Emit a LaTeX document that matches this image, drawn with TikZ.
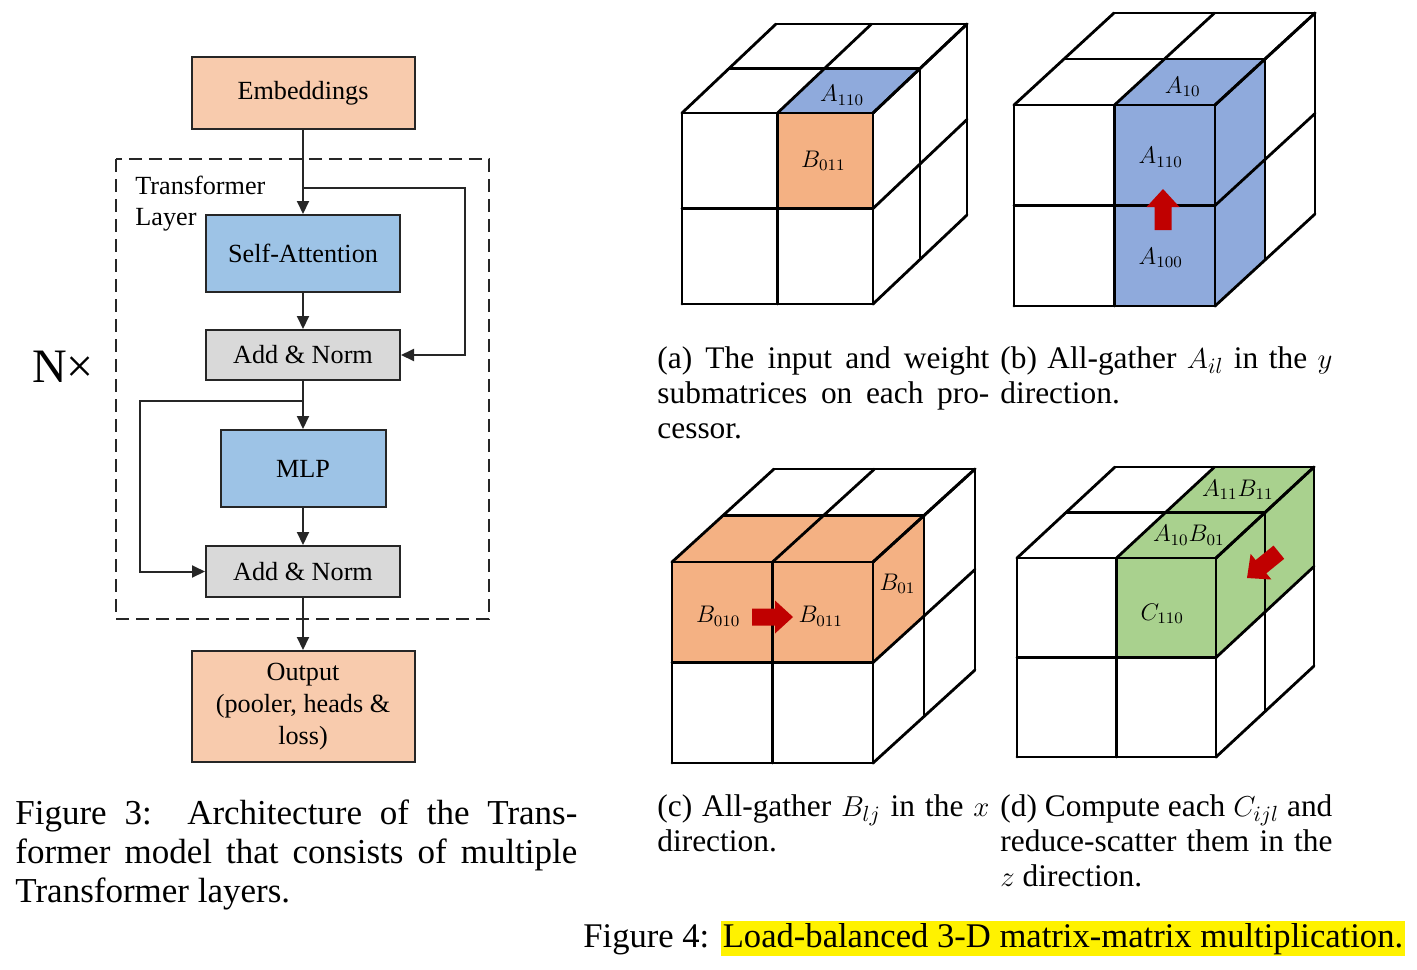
\documentclass[tikz,border=0pt]{standalone}
\usepackage{fontspec}
\setmainfont{Liberation Serif}
\usepackage{tikz}
\usetikzlibrary{arrows.meta}

\definecolor{peach}{HTML}{F8CBAD}
\definecolor{skyblue}{HTML}{9DC3E6}
\definecolor{normgray}{HTML}{D9D9D9}
\definecolor{edge}{HTML}{262626}
\definecolor{cubeblue}{HTML}{8FAADC}
\definecolor{cubeorange}{HTML}{F4B183}
\definecolor{cubegreen}{HTML}{A9D18E}
\definecolor{arrowred}{HTML}{C00000}

\newcommand{\CubeGrid}{%
  \foreach \gp in {0,0.5,1} {%
    \draw[cubeline] (0,\gp,0) -- (1,\gp,0);
    \draw[cubeline] (\gp,0,0) -- (\gp,1,0);
    \draw[cubeline] (0,1,\gp) -- (1,1,\gp);
    \draw[cubeline] (\gp,1,0) -- (\gp,1,1);
    \draw[cubeline] (1,\gp,0) -- (1,\gp,1);
    \draw[cubeline] (1,0,\gp) -- (1,1,\gp);
  }%
}
\newcommand{\RedArrow}[2]{%
  \fill[arrowred, shift={#1}, rotate=#2] (0,0) -- (-18,-16.5) -- (-18,-8.5)
    -- (-41,-8.5) -- (-41,8.5) -- (-18,8.5) -- (-18,16.5) -- cycle;%
}

\begin{document}
\begin{tikzpicture}[x=0.5pt, y=-0.5pt,
    >={Triangle[length=6.5pt, width=6pt]},
    block/.style={draw=edge, line width=1pt, inner sep=0pt, align=center,
      font=\fontsize{13.1}{16}\selectfont},
    flow/.style={->, draw=edge, line width=1pt},
    cubeline/.style={line width=1.4pt, line cap=round, line join=round},
    cubelabel/.style={inner sep=0pt, font=\fontsize{12}{14}\selectfont},
    subcap/.style={anchor=north west, inner sep=0pt, text width=166pt,
      align=justify, font=\fontsize{15.7}{17.5}\selectfont},
    cubeat/.style n args={3}{shift={#1}, x={(#2,0pt)}, y={(0pt,#2)}, z={#3}}]

  \useasboundingbox (0,0) rectangle (1417,969);

  % transformer layer
  \draw[edge, dashed, dash pattern=on 6.5pt off 3.5pt, line width=1pt] (116,159) rectangle (489,619);

  \node[block, fill=peach, minimum width=111.5pt, minimum height=36pt] (emb) at (303,93) {Embeddings};
  \node[block, fill=skyblue, minimum width=97pt, minimum height=38.5pt] (sa) at (303,253.5) {Self-Attention};
  \node[block, fill=normgray, minimum width=97pt, minimum height=25pt] (an1) at (303,355) {Add \& Norm};
  \node[block, fill=skyblue, minimum width=82.5pt, minimum height=38.5pt] (mlp) at (303,468.5) {MLP};
  \node[block, fill=normgray, minimum width=97pt, minimum height=25.5pt] (an2) at (303,571.5) {Add \& Norm};
  \node[block, fill=peach, minimum width=111.5pt, minimum height=55.5pt] (out) at (303,706.5) {Output\\(pooler, heads \&\\loss)};

  \node[anchor=north west, inner sep=0pt, align=left, font=\fontsize{13.1}{15.5}\selectfont] (layer) at (135,176) {Transformer\\Layer};
  \node[inner sep=0pt, font=\fontsize{24}{28}\selectfont] (nx) at (63,367) {N×};

  \coordinate (split1) at (303,188);
  \coordinate (skipR) at (465,188);
  \coordinate (split2) at (303,401);
  \coordinate (skipL) at (140,401);

  \draw[flow] (emb) -- (sa);
  \draw[flow] (split1) -- (skipR) |- (an1);
  \draw[flow] (sa) -- (an1);
  \draw[flow] (an1) -- (mlp);
  \draw[flow] (split2) -- (skipL) |- (an2);
  \draw[flow] (mlp) -- (an2);
  \draw[flow] (an2) -- (out);

  % (a) input and weight
  \begin{scope}[cubeat={(682,304)}{95.5pt}{(47pt,44.5pt)}]
    \fill[cubeorange] (0.5,0.5,0) rectangle (1,1,0);
    \fill[cubeblue] (0.5,1,0) -- (1,1,0) -- (1,1,0.5) -- (0.5,1,0.5) -- cycle;
    \CubeGrid
    \node[cubelabel] (aA110) at (0.74,1,0.2) {$A_{110}$};
    \node[cubelabel] (aB011) at (0.74,0.75,0) {$B_{011}$};
  \end{scope}

  % (b) all-gather A
  \begin{scope}[cubeat={(1014,306)}{100.5pt}{(50pt,46pt)}]
    \fill[cubeblue] (0.5,0,0) -- (1,0,0) -- (1,0,0.5) -- (1,1,0.5) -- (0.5,1,0.5) -- (0.5,1,0) -- cycle;
    \CubeGrid
    \node[cubelabel] (bA10) at (0.74,1,0.2) {$A_{10}$};
    \node[cubelabel] (bA110) at (0.73,0.74,0) {$A_{110}$};
    \node[cubelabel] (bA100) at (0.73,0.24,0) {$A_{100}$};
  \end{scope}
  \RedArrow{(1163,189)}{90}

  % (c) all-gather B
  \begin{scope}[cubeat={(672,763)}{100.5pt}{(51pt,46.5pt)}]
    \fill[cubeorange] (0,0.5,0) -- (1,0.5,0) -- (1,0.5,0.5) -- (1,1,0.5) -- (0,1,0.5) -- (0,1,0) -- cycle;
    \CubeGrid
    \node[cubelabel] (cB010) at (0.23,0.73,0) {$B_{010}$};
    \node[cubelabel] (cB011) at (0.74,0.73,0) {$B_{011}$};
    \node[cubelabel] (cB01) at (1,0.78,0.24) {$B_{01}$};
  \end{scope}
  \RedArrow{(793,617)}{0}

  % (d) compute and reduce-scatter C
  \begin{scope}[cubeat={(1017,757)}{99.5pt}{(49pt,45.5pt)}]
    \fill[cubegreen] (0.5,0.5,0) -- (1,0.5,0) -- (1,0.5,1) -- (1,1,1) -- (0.5,1,1) -- (0.5,1,0) -- cycle;
    \CubeGrid
    \node[cubelabel] (dC110) at (0.73,0.72,0) {$C_{110}$};
    \node[cubelabel] (dA10B01) at (0.74,1,0.25) {$A_{10}B_{01}$};
    \node[cubelabel] (dA11B11) at (0.74,1,0.75) {$A_{11}B_{11}$};
  \end{scope}
  \RedArrow{(1247,578)}{219}

  % captions
  \node[subcap] (capa) at (657,346) {(a) The input and weight\linebreak submatrices on each pro-\linebreak cessor.};
  \node[subcap] (capb) at (1000,346) {(b) All-gather $A_{il}$ in the $y$\linebreak direction.};
  \node[subcap] (capc) at (657,794) {(c) All-gather $B_{lj}$ in the $x$\linebreak direction.};
  \node[subcap] (capd) at (1000,794) {(d) Compute each $C_{ijl}$ and\linebreak reduce-scatter them in the\linebreak $z$ direction.};

  \node[anchor=north west, inner sep=0pt, text width=281pt, align=justify,
    font=\fontsize{17.5}{19.5}\selectfont] (cap3) at (15,799)
    {Figure 3:\ \ Architecture of the Trans-\linebreak former model that consists of multiple\linebreak Transformer layers.};
  \node[anchor=base west, inner sep=0pt, font=\fontsize{17.3}{19.5}\selectfont] (cap4) at (583,947)
    {Figure 4: {\fboxsep=1pt\colorbox{yellow}{Load-balanced 3-D matrix-matrix multiplication.}}};

\end{tikzpicture}
\end{document}
